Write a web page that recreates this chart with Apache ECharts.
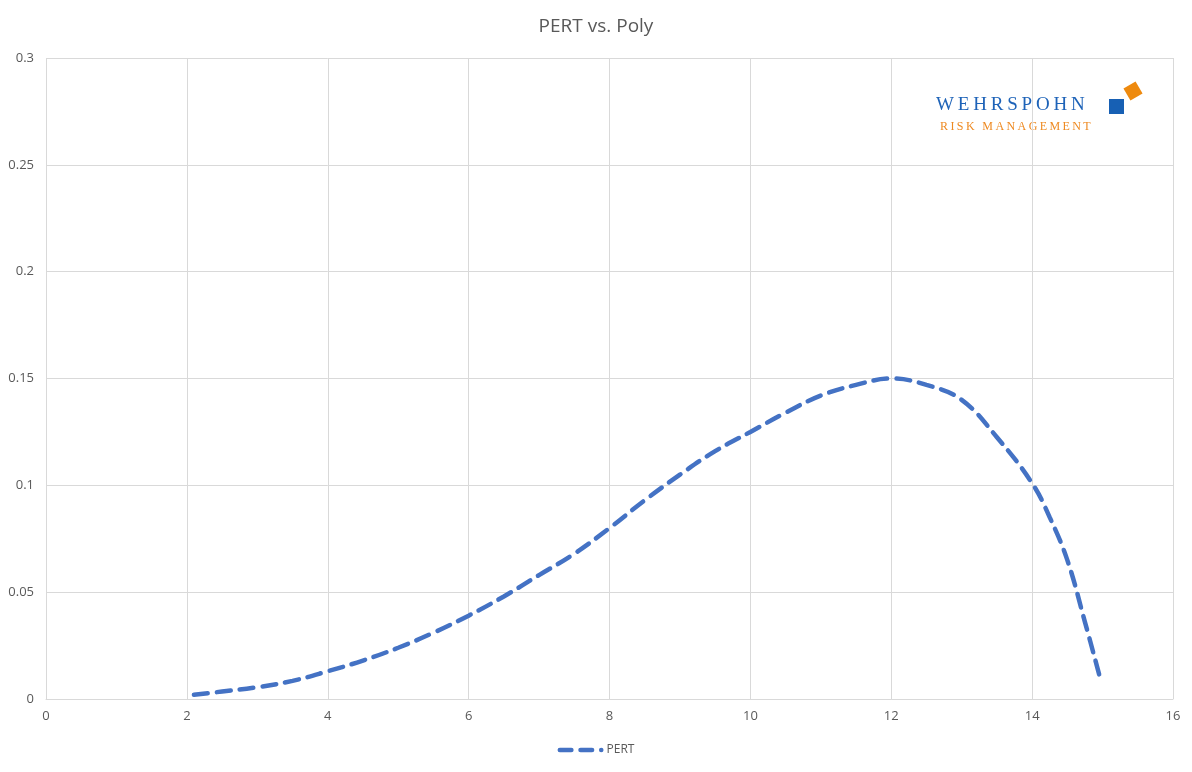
<!DOCTYPE html>
<html><head><meta charset="utf-8">
<script src="https://cdn.jsdelivr.net/npm/echarts@6/dist/echarts.min.js"></script>
<style>html,body{margin:0;padding:0;background:#fff}#c{width:1192px;height:772px}</style>
</head><body><div id="c"></div>
<script>
const xValues = [2.1, 2.5, 3, 3.5, 4, 4.5, 5, 5.5, 6, 6.5, 7, 7.5, 8, 8.5, 9, 9.5, 10, 10.5, 11, 11.5, 12, 12.5, 13, 13.5, 14, 14.25, 14.5, 14.75, 14.98];
const pertValues = [0.002, 0.0035, 0.0055, 0.0085, 0.013, 0.018, 0.024, 0.031, 0.039, 0.048, 0.058, 0.068, 0.080, 0.093, 0.105, 0.116, 0.125, 0.134, 0.142, 0.147, 0.150, 0.147, 0.140, 0.1225, 0.101, 0.085, 0.065, 0.036, 0.008];
const xTicks = [0, 2, 4, 6, 8, 10, 12, 14, 16];
const yTicks = [0, 0.05, 0.1, 0.15, 0.2, 0.25, 0.3];

const chart = echarts.init(document.getElementById('c'));
const gridColor = '#d9d9d9';
const txt = '#595959';
const spaced = s => s.split('').join('\u2009');
const legendIcon = 'path://M2,0H12A2,2 0 0 1 12,4H2A2,2 0 0 1 2,0Z M20,0H30A2,2 0 0 1 30,4H20A2,2 0 0 1 20,0Z M38,0A2,2 0 0 1 38,4A2,2 0 0 1 38,0Z';
chart.setOption({
  animation: false,
  backgroundColor: '#fff',
  title: { text: 'PERT vs. Poly', left: 'center', top: 12, textStyle: { color: txt, fontSize: 19, fontWeight: 'normal', fontFamily: 'Open Sans, Liberation Sans, sans-serif' } },
  grid: { left: 46, right: 19, top: 58, bottom: 73, containLabel: false },
  legend: { bottom: 11, left: 'center', itemWidth: 46, itemHeight: 5, textStyle: { color: txt, fontSize: 12, fontFamily: 'Open Sans, sans-serif', padding: [0,0,0,-2] }, itemGap: 4,
    data: [{ name: 'PERT', icon: legendIcon, itemStyle: { color: '#4472c4' } }] },
  xAxis: { type: 'value', min: 0, max: 16, interval: 2,
    axisLine: { show: true, lineStyle: { color: gridColor } }, axisTick: { show: false },
    axisLabel: { color: txt, fontSize: 13, margin: 11, fontFamily: 'Open Sans, sans-serif' },
    splitLine: { show: true, lineStyle: { color: gridColor } } },
  yAxis: { type: 'value', min: 0, max: 0.3, interval: 0.05,
    axisLine: { show: false }, axisTick: { show: false },
    axisLabel: { color: txt, fontSize: 13, margin: 12, fontFamily: 'Open Sans, sans-serif' },
    splitLine: { show: true, lineStyle: { color: gridColor } } },
  series: [{
    name: 'PERT', type: 'line', smooth: 0.4, showSymbol: false, symbol: 'none',
    data: xValues.map((x, i) => [x, pertValues[i]]),
    lineStyle: { color: '#4472c4', width: 4.5, type: [14, 9], cap: 'round' },
    itemStyle: { color: '#4472c4' }
  }],
  graphic: [
    { type: 'text', x: 936, y: 96, style: { text: spaced('WEHRSPOHN'), fill: '#1e63b8', font: '19px "Liberation Serif", "DejaVu Serif", serif' } },
    { type: 'text', x: 940, y: 121, style: { text: spaced('RISK MANAGEMENT'), fill: '#ee8a22', font: '12px "Liberation Serif", "DejaVu Serif", serif' } },
    { type: 'rect', shape: { x: 1109, y: 99, width: 15, height: 15 }, style: { fill: '#1760b4' } },
    { type: 'rect', shape: { x: -7, y: -7, width: 14, height: 14 }, x: 1133, y: 91, rotation: Math.PI / 6, style: { fill: '#ee8a0e' } }
  ]
});
</script></body></html>
